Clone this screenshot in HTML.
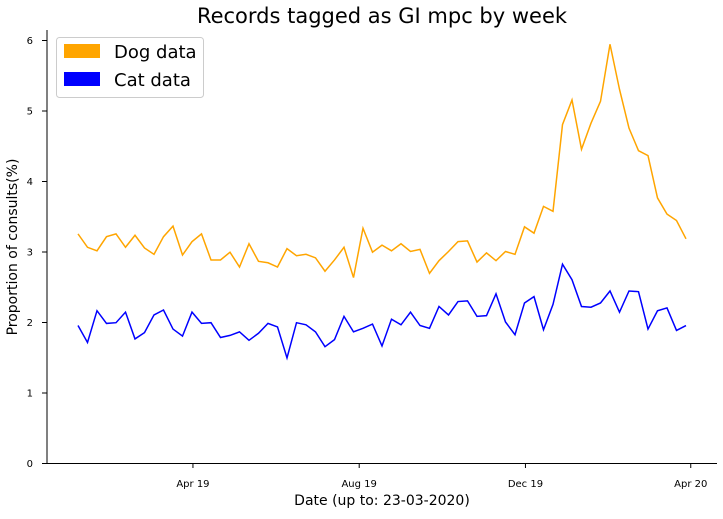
<!DOCTYPE html>
<html><head><meta charset="utf-8"><style>
html,body{margin:0;padding:0;background:#fff;}
svg text{font-family:"DejaVu Sans","Liberation Sans",sans-serif;}
</style></head><body>
<svg id="chart" width="723" height="514">
<text x="382" y="23" font-size="21" text-anchor="middle">Records tagged as GI mpc by week</text>
<text x="382" y="505" font-size="14" text-anchor="middle">Date (up to: 23-03-2020)</text>
<text transform="translate(17,247) rotate(-90)" font-size="14" text-anchor="middle">Proportion of consults(%)</text>
<line x1="47" y1="30" x2="47" y2="463.5" stroke="#000"/>
<line x1="46.5" y1="463.5" x2="717" y2="463.5" stroke="#000"/>
<g id="yticks"></g><g id="xticks"></g><g id="series"></g>
<g>
<rect x="56.5" y="37.5" width="147" height="60" rx="3" fill="#fff" stroke="#ccc"/>
<rect x="64" y="44" width="36" height="14" fill="#FFA500"/>
<text x="114" y="58" font-size="18">Dog data</text>
<rect x="64" y="72" width="36" height="14" fill="#0000FF"/>
<text x="114" y="86" font-size="18">Cat data</text>
</g>
</svg>
<script>
const dogValues=[3.25,3.06,3.01,3.21,3.25,3.06,3.23,3.05,2.96,3.21,3.36,2.95,3.14,3.25,2.88,2.88,2.99,2.78,3.11,2.86,2.84,2.78,3.04,2.94,2.96,2.91,2.72,2.88,3.06,2.63,3.33,2.99,3.09,3.01,3.11,3.0,3.03,2.69,2.87,3.0,3.14,3.15,2.85,2.98,2.87,3.0,2.96,3.35,3.26,3.64,3.57,4.8,5.15,4.45,4.82,5.13,5.94,5.3,4.75,4.43,4.36,3.76,3.53,3.44,3.18];
const catValues=[1.95,1.71,2.16,1.98,1.99,2.14,1.76,1.85,2.1,2.17,1.9,1.8,2.14,1.98,1.99,1.78,1.81,1.86,1.74,1.84,1.98,1.93,1.49,1.99,1.96,1.86,1.65,1.75,2.08,1.86,1.91,1.97,1.66,2.04,1.96,2.14,1.95,1.91,2.22,2.1,2.29,2.3,2.08,2.09,2.4,2.0,1.82,2.27,2.36,1.89,2.25,2.82,2.6,2.22,2.21,2.27,2.44,2.14,2.44,2.43,1.9,2.16,2.2,1.88,1.95];
const yTickValues=[0,1,2,3,4,5,6];
const xTickLabels=["Apr 19","Aug 19","Dec 19","Apr 20"];
const xTickWeeks=[12.1,29.6,47.1,64.5];
const NS="http://www.w3.org/2000/svg";
function xs(i){return 78+i*9.5;}
function ys(v){return 463-v*70.5;}
const yt=document.getElementById('yticks');
yTickValues.forEach(v=>{
  const l=document.createElementNS(NS,'line');
  l.setAttribute('x1',42);l.setAttribute('x2',47);
  l.setAttribute('y1',ys(v)+0.5);l.setAttribute('y2',ys(v)+0.5);l.setAttribute('stroke','#000');
  
  
  yt.appendChild(l);
  const t=document.createElementNS(NS,'text');
  t.setAttribute('x',33);t.setAttribute('y',ys(v)+4);t.setAttribute('font-size','10');t.setAttribute('text-anchor','end');
  t.textContent=v;
  
  
  yt.appendChild(t);
});
const xt=document.getElementById('xticks');
xTickLabels.forEach((lab,k)=>{
  const x=xs(xTickWeeks[k]);
  const l=document.createElementNS(NS,'line');
  l.setAttribute('x1',x);l.setAttribute('x2',x);l.setAttribute('y1',463);l.setAttribute('y2',468);l.setAttribute('stroke','#000');
  
  
  xt.appendChild(l);
  const t=document.createElementNS(NS,'text');
  t.setAttribute('x',x);t.setAttribute('y',487);t.setAttribute('font-size','10');t.setAttribute('text-anchor','middle');
  t.textContent=lab;
  
  
  xt.appendChild(t);
});
const sg=document.getElementById('series');
[[dogValues,'#FFA500','dog-line'],[catValues,'#0000FF','cat-line']].forEach(([vals,col,name])=>{
  const p=document.createElementNS(NS,'polyline');
  p.setAttribute('points',vals.map((v,i)=>xs(i)+','+ys(v)).join(' '));
  p.setAttribute('fill','none');p.setAttribute('stroke',col);p.setAttribute('stroke-width','1.5');
  
  
  sg.appendChild(p);
});
</script>
</body></html>
